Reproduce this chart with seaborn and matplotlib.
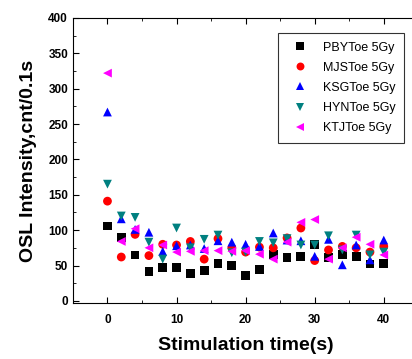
import numpy as np
import pandas as pd
import matplotlib
matplotlib.use("Agg")
import matplotlib.pyplot as plt
import seaborn as sns
from matplotlib.ticker import MultipleLocator

time_s = [0, 2, 4, 6, 8, 10, 12, 14, 16, 18, 20, 22, 24, 26, 28, 30, 32, 34, 36, 38, 40]
pby = [106, 90, 65, 42, 47, 47, 39, 43, 53, 50, 36, 44, 66, 61, 63, 80, 61, 66, 63, 52, 53]
mjs = [141, 62, 94, 64, 80, 79, 84, 59, 88, 75, 69, 76, 75, 89, 103, 57, 72, 77, 75, 69, 77]
ksg = [267, 116, 101, 97, 70, 78, 79, 74, 85, 83, 80, 77, 96, 86, 85, 63, 87, 51, 79, 58, 86]
hyn = [165, 120, 118, 83, 59, 103, 75, 87, 93, 68, 69, 84, 82, 88, 79, 79, 92, 72, 93, 65, 69]
ktj = [322, 84, 102, 75, 79, 69, 70, 71, 71, 70, 71, 66, 59, 83, 111, 115, 59, 75, 90, 80, 65]

names = ["PBYToe 5Gy", "MJSToe 5Gy", "KSGToe 5Gy", "HYNToe 5Gy", "KTJToe 5Gy"]
series = [pby, mjs, ksg, hyn, ktj]
colors = ["#000000", "#ff0000", "#0000ff", "#008080", "#ff00ff"]
marks = ["s", "o", "^", "v", "<"]

df = pd.concat([pd.DataFrame({"t": time_s, "v": s, "name": n}) for n, s in zip(names, series)])

plt.rcParams["font.family"] = ["Liberation Sans", "DejaVu Sans"]
fig = plt.figure(figsize=(4.12, 3.59), dpi=100)
ax = fig.add_axes([0.177, 0.156, 0.84, 0.794])

sns.scatterplot(data=df, x="t", y="v", hue="name", style="name",
                palette=dict(zip(names, colors)), markers=dict(zip(names, marks)),
                hue_order=names, style_order=names, s=40, linewidth=0, ax=ax)

ax.set_xlim(-5, 45.1)
ax.set_ylim(-3, 400)
ax.xaxis.set_major_locator(MultipleLocator(10))
ax.xaxis.set_minor_locator(MultipleLocator(5))
ax.yaxis.set_major_locator(MultipleLocator(50))
ax.yaxis.set_minor_locator(MultipleLocator(25))
ax.tick_params(which="both", direction="in", top=True, right=True)
ax.tick_params(which="major", length=4, labelsize=8.5)
ax.tick_params(axis="x", which="major", pad=8)
ax.tick_params(which="minor", length=2)
for lab in ax.get_xticklabels() + ax.get_yticklabels():
    lab.set_fontweight("bold")
ax.set_xlabel("Stimulation time(s)", fontsize=14, fontweight="bold", labelpad=8)
ax.set_ylabel("OSL Intensity,cnt/0.1s", fontsize=14, fontweight="bold", labelpad=8)

leg = ax.legend(loc="upper right", bbox_to_anchor=(0.975, 0.97), fontsize=9,
                frameon=True, fancybox=False, edgecolor="black", markerscale=0.9,
                handletextpad=0.7, borderpad=0.7, labelspacing=0.65, handlelength=2.2)
leg.get_frame().set_linewidth(0.8)

fig.savefig("out.png", dpi=100)
